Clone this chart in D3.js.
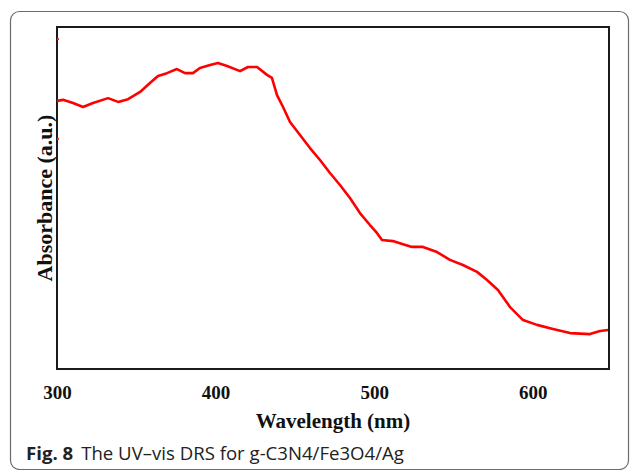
<!DOCTYPE html>
<html>
<head>
<meta charset="utf-8">
<script src="https://cdn.jsdelivr.net/npm/d3@7"></script>
<style>
  body { margin: 0; background: #fff; }
  svg { display: block; }
</style>
</head>
<body>
<script>
// UV-vis DRS spectrum
var wavelength = [300, 303.8, 310.1, 316.4, 322.7, 332.2, 338.5, 344.8, 352.4, 358.6,
  363.7, 369.3, 375.6, 380.7, 385.7, 390.1, 396.5, 401.5, 407.2, 415.4,
  420.4, 426.1, 432.4, 435.5, 438.7, 442.5, 446.9, 453.2, 459.5, 465.8,
  472.1, 478.4, 484.7, 491.0, 497.3, 501.7, 504.9, 511.8, 518.1, 523.8,
  530.7, 539.6, 547.7, 555.9, 564.8, 571.1, 578.0, 585.6, 593.8, 602.6,
  612.7, 623.4, 636.0, 642.3, 647.4];
var absorbance = [0.784, 0.787, 0.778, 0.766, 0.778, 0.792, 0.781, 0.789, 0.810, 0.836,
  0.857, 0.865, 0.877, 0.865, 0.865, 0.880, 0.889, 0.895, 0.886, 0.871,
  0.883, 0.883, 0.860, 0.851, 0.801, 0.766, 0.722, 0.684, 0.646, 0.611,
  0.573, 0.538, 0.500, 0.456, 0.421, 0.398, 0.377, 0.374, 0.365, 0.357,
  0.357, 0.342, 0.319, 0.304, 0.284, 0.260, 0.231, 0.181, 0.143, 0.129,
  0.117, 0.105, 0.102, 0.111, 0.114];
var xTicks = [300, 400, 500, 600];
var yTicks = [0.965, 0.673];   // the two small red marks on the left axis

var w = 630, h = 470;
var margin = {top: 27, right: 21, bottom: 101, left: 57};

var svg = d3.select("body").append("svg")
  .attr("width", w)
  .attr("height", h);

// outer rounded panel
svg.append("rect")
  .attr("x", 10.5).attr("y", 11.5)
  .attr("width", 618).attr("height", 458)
  .attr("rx", 9)
  .style("fill", "none")
  .style("stroke", "#6b6b6b")
  .style("stroke-width", 1.2);

var xScale = d3.scaleLinear()
  .domain([300, 648])
  .range([margin.left, w - margin.right]);

var yScale = d3.scaleLinear()
  .domain([0, 1])
  .range([h - margin.bottom, margin.top]);

var data = wavelength.map(function(d, i) { return {wl: d, a: absorbance[i]}; });

// plot frame
svg.append("rect")
  .attr("x", margin.left).attr("y", margin.top)
  .attr("width", w - margin.left - margin.right)
  .attr("height", h - margin.top - margin.bottom)
  .style("fill", "none")
  .style("stroke", "#1a1a1a")
  .style("stroke-width", 2);

// red tick marks on left axis
svg.append("g")
  .selectAll("line")
  .data(yTicks)
  .enter()
  .append("line")
  .attr("x1", margin.left).attr("x2", margin.left + 2)
  .attr("y1", function(d) { return yScale(d); })
  .attr("y2", function(d) { return yScale(d); })
  .style("stroke", "#ff2020")
  .style("stroke-width", 2);

// x axis labels
var xAxis = d3.axisBottom(xScale)
  .tickValues(xTicks)
  .tickSize(0)
  .tickPadding(0);

var gx = svg.append("g")
  .attr("transform", "translate(0," + (h - margin.bottom) + ")")
  .call(xAxis);
gx.select(".domain").remove();
gx.selectAll("text")
  .attr("y", 30)
  .attr("dy", 0)
  .style("font-family", "'Liberation Serif', 'Times New Roman', serif")
  .style("font-weight", "bold")
  .style("font-size", "19px")
  .style("fill", "#111");

// the line
var valueline = d3.line()
  .x(function(d) { return xScale(d.wl); })
  .y(function(d) { return yScale(d.a); });

svg.append("path")
  .datum(data)
  .attr("d", valueline)
  .style("fill", "none")
  .style("stroke", "#ff0000")
  .style("stroke-width", 2.6)
  .style("stroke-linejoin", "round");

// axis titles
svg.append("text")
  .attr("x", 333)
  .attr("y", 428)
  .style("text-anchor", "middle")
  .style("font-family", "'Liberation Serif', 'Times New Roman', serif")
  .style("font-weight", "bold")
  .style("font-size", "21px")
  .style("fill", "#111")
  .text("Wavelength (nm)");

svg.append("text")
  .attr("transform", "translate(52,198) rotate(-90)")
  .style("text-anchor", "middle")
  .style("font-family", "'Liberation Serif', 'Times New Roman', serif")
  .style("font-weight", "bold")
  .style("font-size", "22px")
  .style("fill", "#111")
  .text("Absorbance (a.u.)");

// caption
var cap = svg.append("text")
  .attr("x", 26)
  .attr("y", 460)
  .style("font-family", "'Open Sans', 'Noto Sans', sans-serif")
  .style("font-size", "18.6px")
  .style("fill", "#222");
cap.append("tspan").style("font-weight", "bold").text("Fig. 8");
cap.append("tspan").attr("dx", 8).text("The UV\u2013vis DRS for g-C3N4/Fe3O4/Ag");
</script>
</body>
</html>
